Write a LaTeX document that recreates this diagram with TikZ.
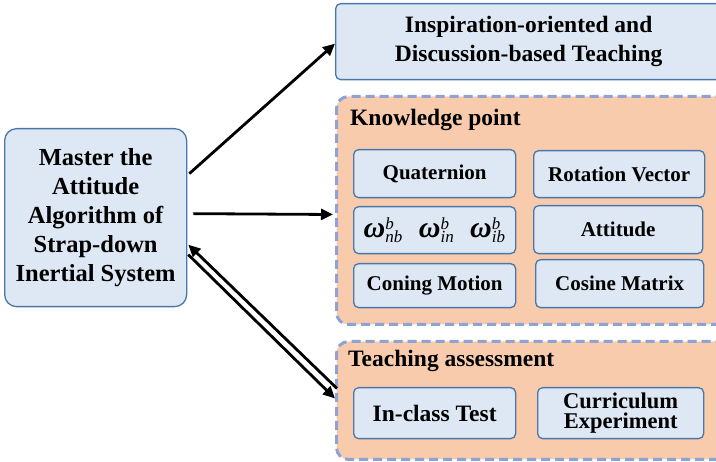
\documentclass[tikz,border=0pt]{standalone}
\usepackage{fontspec}
\setmainfont{Liberation Serif}
\usetikzlibrary{arrows.meta,calc}
\definecolor{bfill}{HTML}{DEE8F4}
\definecolor{bdraw}{HTML}{4A76A8}
\definecolor{ofill}{HTML}{F8CBAD}
\definecolor{odash}{HTML}{8DA3D6}
\newcommand{\omg}[2]{$\mbox{\fontsize{30}{30}\selectfont\bfseries\itshape ω}^{\mbox{\fontsize{17}{17}\selectfont\mdseries\itshape #1}}_{\mbox{\fontsize{17}{17}\selectfont\mdseries\itshape #2}}$}
\begin{document}
\begin{tikzpicture}[x=1pt,y=-1pt,
 bbox/.style={draw=bdraw, fill=bfill, line width=1.3pt, rounded corners=5pt, anchor=north west, inner sep=0pt, align=center, font=\bfseries\fontsize{21}{22}\selectfont},
 obox/.style={draw=odash, fill=ofill, line width=3pt, dash pattern=on 9pt off 5pt, rounded corners=12pt, anchor=north west, inner sep=0pt},
 arr/.style={line width=2.8pt, -{Triangle[length=12pt,width=11pt]}},
 head/.style={anchor=base west, font=\bfseries\fontsize{23.5}{24}\selectfont, inner sep=0pt}]
\useasboundingbox (0,0) rectangle (716,462);
\clip (0,0) rectangle (716,462);
% left box
\node[bbox, rounded corners=12pt, minimum width=182pt, minimum height=178pt, font=\bfseries\fontsize{24.5}{29}\selectfont] (m) at (4,128) {Master the\\Attitude\\Algorithm of\\Strap-down\\Inertial System};
% top box
\node[bbox, minimum width=386pt, minimum height=76pt, font=\bfseries\fontsize{23.5}{29}\selectfont] (insp) at (335,3) {Inspiration-oriented and\\Discussion-based Teaching};
% orange containers
\node[obox, minimum width=400pt, minimum height=228pt] (kp) at (335,95) {};
\node[obox, minimum width=400pt, minimum height=118pt] (ta) at (335,340) {};
\node[head] (kph) at (350,126) {Knowledge point};
\node[head] (tah) at (348,367) {Teaching assessment};
% inner boxes
\node[bbox, minimum width=162pt, minimum height=48pt] (q) at (353,149) {Quaternion};
\node[bbox, minimum width=171pt, minimum height=47pt] (rv) at (533,150) {Rotation Vector};
\node[bbox, minimum width=162pt, minimum height=47pt] (om) at (353,206) {\omg{b}{nb}\hspace{16pt}\omg{b}{in}\hspace{16pt}\omg{b}{ib}};
\node[bbox, minimum width=169pt, minimum height=48pt] (att) at (533,205) {Attitude};
\node[bbox, minimum width=162pt, minimum height=44pt] (cm) at (353,263) {Coning Motion};
\node[bbox, minimum width=168pt, minimum height=48pt] (cos) at (535,259) {Cosine Matrix};
\node[bbox, minimum width=162pt, minimum height=51pt, font=\bfseries\fontsize{23.5}{22}\selectfont] (ict) at (353,387) {In-class Test};
\node[bbox, minimum width=166pt, minimum height=51pt, font=\bfseries\fontsize{22.5}{20}\selectfont] (ce) at (537,387) {Curriculum\\Experiment};
% connectors
\draw[arr] ($(m.east)+(2,-44)$) -- ($(insp.west)+(0,2)$);
\draw[arr] ($(m.east)+(6,-4)$) -- ($(kp.west)+(-2,4)$);
\draw[arr] ($(ta.west)+(2,-12)$) -- ($(m.east)+(1,27)$);
\draw[arr] ($(m.east)+(1,37)$) -- ($(ta.west)+(0,-2)$);
\end{tikzpicture}
\end{document}
